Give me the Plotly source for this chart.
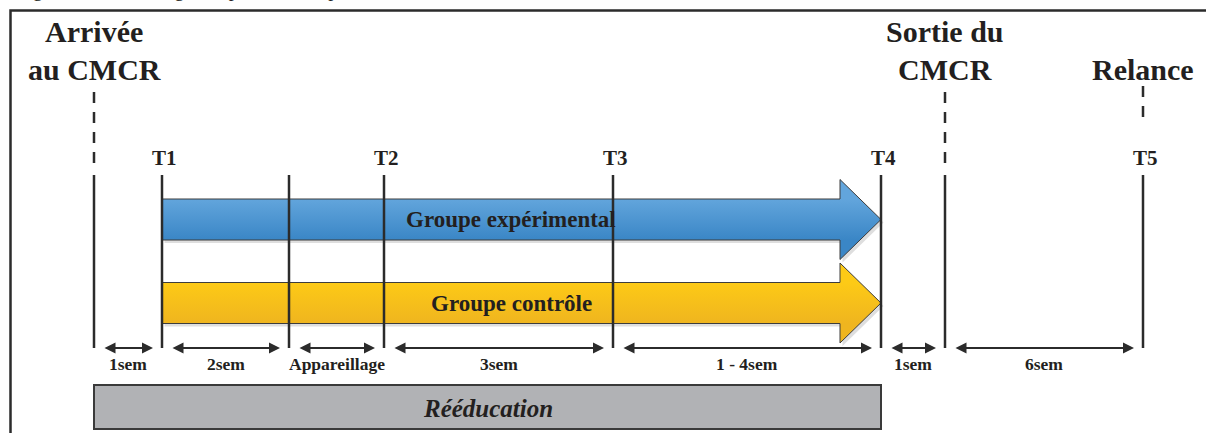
import plotly.graph_objects as go

# ---------------- data ----------------
# schematic timeline positions (diagram units along the horizontal axis)
marker_pos = [94, 162, 289, 384, 613, 881, 945, 1143]
marker_tick = ["", "T1", "", "T2", "T3", "T4", "", "T5"]
marker_dashed = [True, False, False, False, False, False, True, True]

milestone_text = ["Arrivée", "au CMCR", "Sortie du", "CMCR", "Relance"]
milestone_at = [0, 0, 6, 6, 7]          # index into marker_pos
milestone_row = [0, 1, 0, 1, 1]         # text row

period_labels = ["1sem", "2sem", "Appareillage", "3sem", "1 - 4sem", "1sem", "6sem"]
period_from = [0, 1, 2, 3, 4, 5, 6]     # index into marker_pos
period_to = [1, 2, 3, 4, 5, 6, 7]

groups = ["Groupe expérimental", "Groupe contrôle"]
group_from = [1, 1]   # T1
group_to = [5, 5]     # T4
group_top_colors = ["#62a5dc", "#fdca16"]
group_bottom_colors = ["#3a86c6", "#efb51f"]

rehab_label = "Rééducation"
rehab_from, rehab_to = 0, 5

caption = "Figure 1 : Chronologie du protocole expérimental"

# ---------------- layout constants ----------------
W, H = 1206, 433
INK = "#231f20"
LINE = "#2b2b2b"
SERIF = "Liberation Serif, Times New Roman, serif"

fig = go.Figure()
shapes = []
annotations = []

# frame
shapes.append(dict(type="path", xref="x", yref="y",
                   path=f"M 10.5 {H+5} L 10.5 10.5 L {W+5} 10.5",
                   line=dict(color=LINE, width=2.5)))

# caption (cut by top edge)
annotations.append(dict(x=14, y=3, xref="x", yref="y", xanchor="left", yanchor="bottom",
                        text=caption, showarrow=False,
                        font=dict(family=SERIF, size=20, color=INK)))

# vertical markers
for i, (xp, tl, dsh) in enumerate(zip(marker_pos, marker_tick, marker_dashed)):
    if dsh:
        last = i == len(marker_pos) - 1
        top = 86 if last else 92
        bottom = 124 if last else 166
        shapes.append(dict(type="line", xref="x", yref="y", x0=xp, x1=xp, y0=top, y1=bottom,
                           line=dict(color=LINE, width=2.5, dash="11px,9px")))
    shapes.append(dict(type="line", xref="x", yref="y", x0=xp, x1=xp, y0=175, y1=348,
                       line=dict(color=LINE, width=2.5)))
    if tl:
        annotations.append(dict(x=xp + 2, y=158, xref="x", yref="y", text=f"<b>{tl}</b>",
                                showarrow=False, xanchor="center", yanchor="middle",
                                font=dict(family=SERIF, size=21, color=INK)))

# milestone titles
row_y = [31, 69]
for txt, idx, row in zip(milestone_text, milestone_at, milestone_row):
    annotations.append(dict(x=marker_pos[idx], y=row_y[row], xref="x", yref="y",
                            text=f"<b>{txt}</b>", showarrow=False,
                            xanchor="center", yanchor="middle",
                            font=dict(family=SERIF, size=30, color=INK)))

# group arrows
centers = [219.5, 303]
for name, a, b, c, ctop, cbot in zip(groups, group_from, group_to, centers,
                                      group_top_colors, group_bottom_colors):
    x0, x1 = marker_pos[a], marker_pos[b]
    hb, hh, hl = 20.5, 40, 41
    xs = [x0, x1 - hl, x1 - hl, x1, x1 - hl, x1 - hl, x0, x0]
    ys = [c - hb, c - hb, c - hh, c, c + hh, c + hb, c + hb, c - hb]
    # soft shadow
    fig.add_trace(go.Scatter(x=[v + 2.5 for v in xs], y=[v + 3 for v in ys], mode="lines",
                             fill="toself", fillcolor="rgba(0,0,0,0.13)",
                             line=dict(width=0), hoverinfo="skip", showlegend=False))
    fig.add_trace(go.Scatter(x=xs, y=ys, mode="lines", fill="toself",
                             fillgradient=dict(type="vertical", start=c - hb, stop=c + hb,
                                               colorscale=[[0, ctop], [1, cbot]]),
                             line=dict(color="#3c3c3c", width=1),
                             hoverinfo="skip", showlegend=False))
    annotations.append(dict(x=(x0 + x1 - hl) / 2 + 10, y=c, xref="x", yref="y",
                            text=f"<b>{name}</b>", showarrow=False,
                            xanchor="center", yanchor="middle",
                            font=dict(family=SERIF, size=23, color=INK)))

# period double arrows and labels
for lab, a, b in zip(period_labels, period_from, period_to):
    xa, xb = marker_pos[a] + 9, marker_pos[b] - 9
    annotations.append(dict(x=xb, y=348, ax=xa, ay=348, xref="x", yref="y",
                            axref="x", ayref="y", text="", showarrow=True,
                            arrowhead=2, startarrowhead=2, arrowside="end+start",
                            arrowsize=1.1, startarrowsize=1.1, arrowwidth=2, arrowcolor=LINE))
    annotations.append(dict(x=(marker_pos[a] + marker_pos[b]) / 2, y=364, xref="x", yref="y",
                            text=f"<b>{lab}</b>", showarrow=False,
                            xanchor="center", yanchor="middle",
                            font=dict(family=SERIF, size=17.5, color=INK)))

# rehabilitation bar
rx0, rx1 = marker_pos[rehab_from], marker_pos[rehab_to]
shapes.append(dict(type="rect", xref="x", yref="y", x0=rx0, x1=rx1, y0=385, y1=429,
                   fillcolor="#b1b2b5", line=dict(color="#3a3a3a", width=2), layer="below"))
annotations.append(dict(x=(rx0 + rx1) / 2, y=408, xref="x", yref="y",
                        text=f"<b><i>{rehab_label}</i></b>", showarrow=False,
                        xanchor="center", yanchor="middle",
                        font=dict(family=SERIF, size=25, color=INK)))

fig.update_layout(
    width=W, height=H,
    margin=dict(l=0, r=0, t=0, b=0),
    paper_bgcolor="white", plot_bgcolor="white",
    xaxis=dict(range=[0, W], visible=False, fixedrange=True),
    yaxis=dict(range=[H, 0], visible=False, fixedrange=True),
    shapes=shapes, annotations=annotations, showlegend=False,
)

fig.write_html("out.html", config={"displayModeBar": False},
               post_script="document.body.style.margin='0';document.body.style.overflow='hidden';")
